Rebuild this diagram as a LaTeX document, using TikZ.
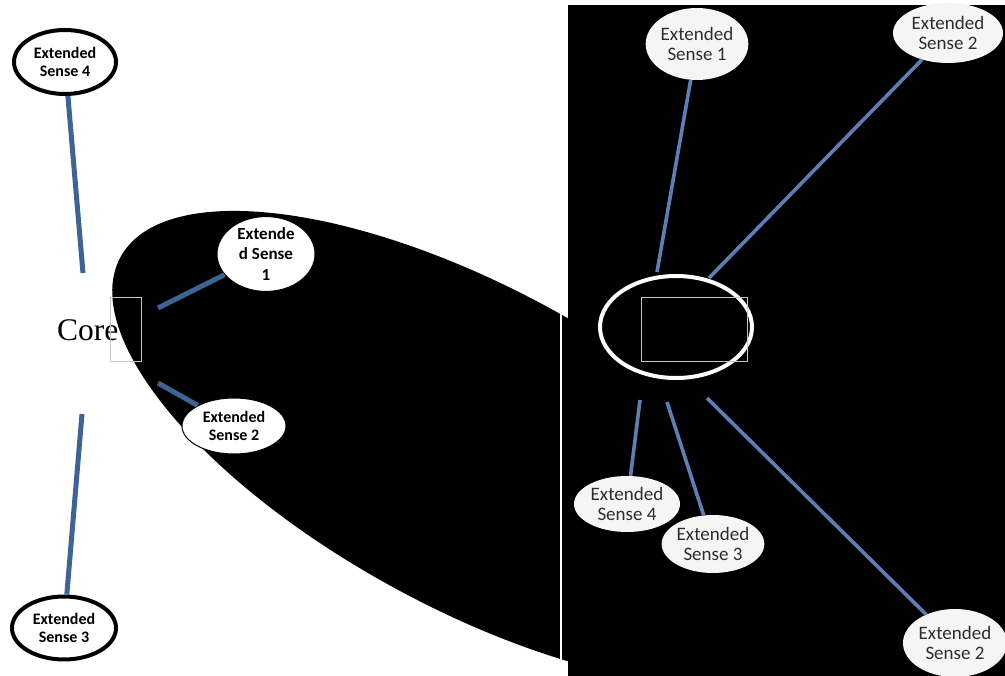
\documentclass[tikz,border=0pt]{standalone}
\usepackage{fontspec}
\setmainfont{Carlito}
\newfontfamily\corefont{Liberation Serif}
\usetikzlibrary{shapes.geometric}
\definecolor{lblue}{RGB}{62,100,150}
\definecolor{rblue}{RGB}{92,128,180}
\definecolor{rtext}{RGB}{45,45,45}
\begin{document}
\begin{tikzpicture}[x=1pt,y=-1pt,
  leftnode/.style={ellipse, draw=black, line width=4pt, fill=white, inner sep=0pt, align=center,
    font=\bfseries\fontsize{16}{17.5}\selectfont},
  innode/.style={ellipse, draw=black, line width=1pt, fill=white, inner sep=0pt, align=center,
    font=\bfseries\fontsize{16}{17.5}\selectfont},
  rnode/.style={ellipse, fill=white!96!black, inner sep=0pt, align=center, text=rtext,
    font=\fontsize{19}{20.5}\selectfont},
  lline/.style={draw=lblue, line width=5pt},
  rline/.style={draw=rblue, line width=3.6pt},
  frame/.style={draw=gray!45, line width=0.8pt, inner sep=0pt}
]
\useasboundingbox (0,0) rectangle (1005,676);
\fill[white] (0,0) rectangle (1005,676);

% left: Core label and big black ellipse
\node[anchor=base west, inner sep=0pt, font=\corefont\fontsize{31.5}{31.5}\selectfont] (core) at (57,341) {Core};
\fill[black, rotate around={-28.5:(472,448)}] (472,448) ellipse [x radius=400, y radius=160];
\draw[white, line width=2pt] (561,312) -- (561,662);

% right panel
\fill[black] (568,5) rectangle (1005,676);

% left frame box
\node[frame, minimum width=31pt, minimum height=64pt] (lbox) at (125.5,329) {};

% left nodes
\node[leftnode, minimum width=102pt, minimum height=64pt] (L4) at (65,62) {Extended\\Sense 4};
\node[leftnode, minimum width=104pt, minimum height=63pt] (L3) at (64,628) {Extended\\Sense 3};
\node[innode, minimum width=98pt, minimum height=63pt, font=\bfseries\fontsize{17}{20.5}\selectfont] (L1) at (266,254) {Extende\\d Sense\\1};
\node[innode, minimum width=104pt, minimum height=56pt] (L2) at (234,426) {Extended\\Sense 2};

\coordinate (c4) at (83,273);
\coordinate (c3) at (82,414);
\coordinate (c1) at (158,308);
\coordinate (c2) at (158,383);
\draw[lline] (c4) -- (L4);
\draw[lline] (c3) -- (L3);
\draw[lline] (c1) -- (L1);
\draw[lline] (c2) -- (L2);

% right panel nodes
\node[ellipse, draw=white, line width=4pt, minimum width=152pt, minimum height=102pt, inner sep=0pt] (rcore) at (676,327) {};
\node[frame, minimum width=106pt, minimum height=64pt] (rbox) at (694,329) {};
\node[rnode, minimum width=102pt, minimum height=72pt] (R1) at (697,44) {Extended\\Sense 1};
\node[rnode, minimum width=110pt, minimum height=60pt] (R2a) at (948,33) {Extended\\Sense 2};
\node[rnode, minimum width=106pt, minimum height=56pt] (R4) at (627,504) {Extended\\Sense 4};
\node[rnode, minimum width=100pt, minimum height=58pt] (R3) at (713,544) {Extended\\Sense 3};
\node[rnode, minimum width=104pt, minimum height=68pt] (R2b) at (955,643) {Extended\\Sense 2};

\coordinate (d1) at (657,272);
\coordinate (d2) at (709,278);
\coordinate (d4) at (640,400);
\coordinate (d3) at (667,402);
\coordinate (d5) at (707,398);
\draw[rline] (d1) -- (R1);
\draw[rline] (d2) -- (R2a);
\draw[rline] (d4) -- (R4);
\draw[rline] (d3) -- (R3);
\draw[rline] (d5) -- (R2b);
\end{tikzpicture}
\end{document}
